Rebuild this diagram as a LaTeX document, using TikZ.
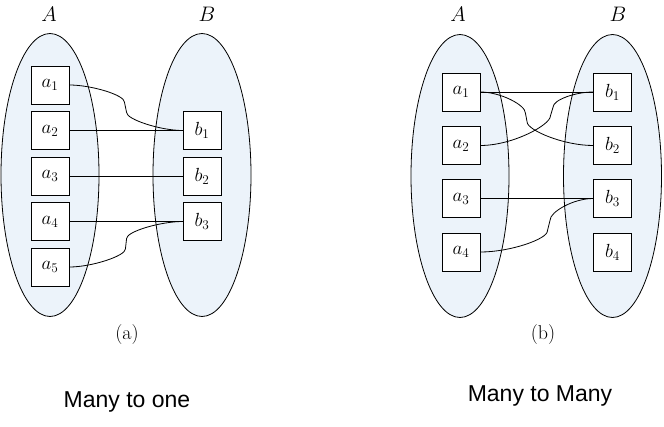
\documentclass[tikz,border=0pt]{standalone}
\usepackage{fix-cm}
\usepackage{fontspec}
\newfontfamily\capsans{Liberation Sans}
\usetikzlibrary{shapes.geometric,calc}
\definecolor{setfill}{RGB}{236,243,250}
\begin{document}
\begin{tikzpicture}[x=1pt,y=-1pt,
  setshape/.style={ellipse,draw,line width=0.8pt,fill=setfill,minimum width=98pt,minimum height=283pt,inner sep=0pt},
  elem/.style={draw,fill=white,line width=0.8pt,minimum size=38pt,inner sep=0pt,font=\fontsize{19}{21}\selectfont},
  setname/.style={font=\fontsize{21}{24}\selectfont},
  wire/.style={line width=0.8pt},
  sublabel/.style={font=\fontsize{20}{22}\selectfont},
  bigcaption/.style={font=\capsans\fontsize{23}{26}\selectfont,anchor=base}
]
\useasboundingbox (0,0) rectangle (664,426);

% ---------- (a) ----------
\node[setshape] (SA) at (50,175) {};
\node[setshape] (SB) at (202,175) {};
\node[setname] (LA) at (49,14) {$A$};
\node[setname] (LB) at (207,14) {$B$};
\node[elem] (a1) at (50,85) {$a_1$};
\node[elem] (a2) at (50,130.5) {$a_2$};
\node[elem] (a3) at (50,176) {$a_3$};
\node[elem] (a4) at (50,221.5) {$a_4$};
\node[elem] (a5) at (50,267) {$a_5$};
\node[elem] (b1) at (202,130.5) {$b_1$};
\node[elem] (b2) at (202,176) {$b_2$};
\node[elem] (b3) at (202,221.5) {$b_3$};
\draw[wire] (a1.east) .. controls +(22,0) and +(0,-7) .. ($(a1.east)+(55,17)$)
  -- ($(b1.west)+(-56,-18)$) .. controls +(0,7) and +(-22,0) .. (b1.west);
\draw[wire] (a2.east) -- (b1.west);
\draw[wire] (a3.east) -- (b2.west);
\draw[wire] (a4.east) -- (b3.west);
\draw[wire] (a5.east) .. controls +(22,0) and +(0,7) .. ($(a5.east)+(56,-18)$)
  -- ($(b3.west)+(-56,17)$) .. controls +(0,-7) and +(-22,0) .. (b3.west);
\node[sublabel] (capa) at (127,335) {(a)};
\node[bigcaption] (ta) at (127,407) {Many to one};

% ---------- (b) ----------
\node[setshape] (TA) at (460,176) {};
\node[setshape] (TB) at (612.5,176) {};
\node[setname] (MA) at (458,14) {$A$};
\node[setname] (MB) at (618,14) {$B$};
\node[elem] (c1) at (461,92) {$a_1$};
\node[elem] (c2) at (461,145.5) {$a_2$};
\node[elem] (c3) at (461,198.5) {$a_3$};
\node[elem] (c4) at (461,252) {$a_4$};
\node[elem] (d1) at (612.5,92) {$b_1$};
\node[elem] (d2) at (612.5,145.5) {$b_2$};
\node[elem] (d3) at (612.5,198.5) {$b_3$};
\node[elem] (d4) at (612.5,252) {$b_4$};
\draw[wire] (c1.east) -- (d1.west);
\draw[wire] (c1.east) .. controls +(20,0) and +(0,-8) .. ($(c1.east)+(45,21)$)
  -- ($(d2.west)+(-66,-23.5)$) .. controls +(0,8) and +(-30,0) .. (d2.west);
\draw[wire] (c2.east) .. controls +(32,0) and +(0,9) .. ($(c2.east)+(70,-29.5)$)
  -- ($(d1.west)+(-40,15)$) .. controls +(0,-7) and +(-18,0) .. (d1.west);
\draw[wire] (c3.east) -- (d3.west);
\draw[wire] (c4.east) .. controls +(30,0) and +(0,8) .. ($(c4.east)+(67,-21)$)
  -- ($(d3.west)+(-43,21.5)$) .. controls +(0,-8) and +(-20,0) .. (d3.west);
\node[sublabel] (capb) at (543,335) {(b)};
\node[bigcaption] (tb) at (540,401.5) {Many to Many};
\end{tikzpicture}
\end{document}
